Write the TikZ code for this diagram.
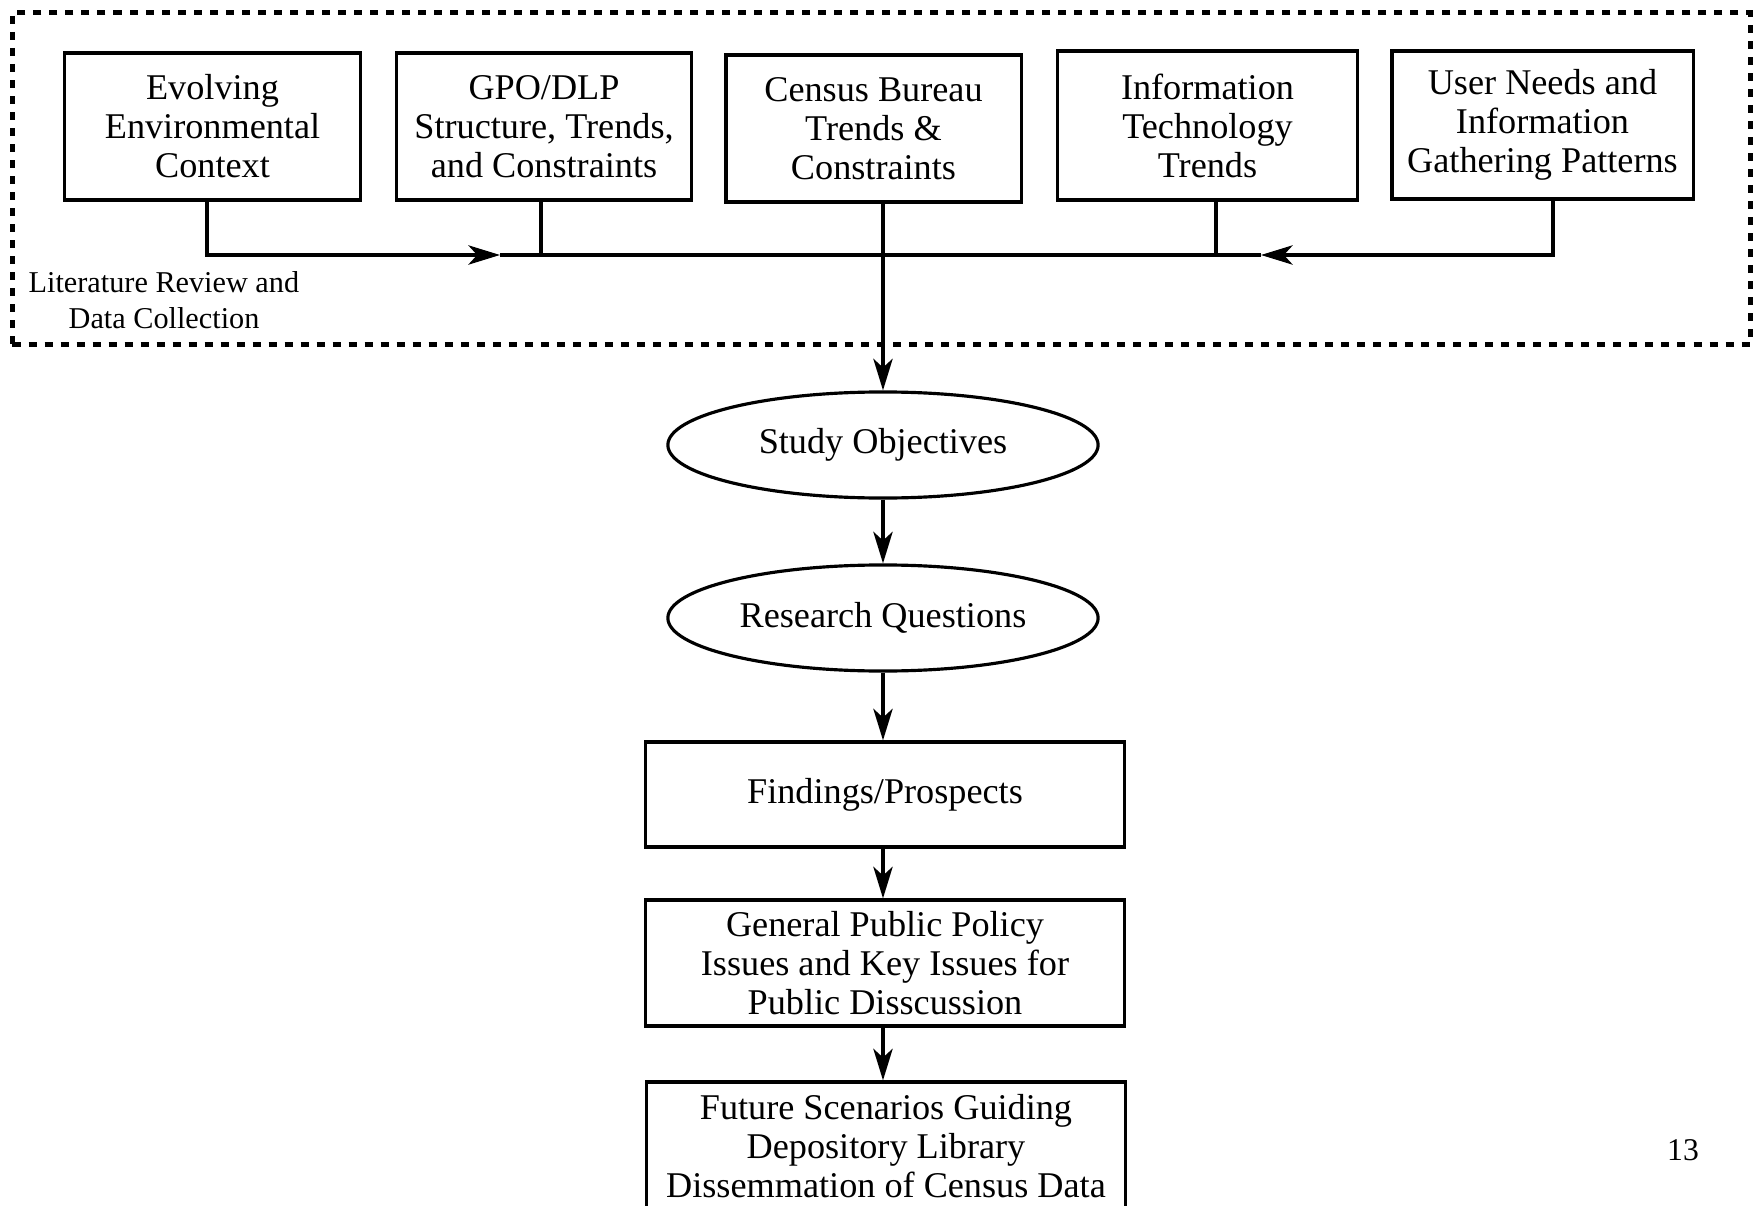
\documentclass[tikz,border=0pt]{standalone}
\usepackage{fontspec}
\setmainfont{Liberation Serif}
\usetikzlibrary{shapes.geometric,arrows.meta}
\begin{document}
\begin{tikzpicture}[x=0.01cm,y=-0.01cm,
  box/.style={draw,line width=0.9pt,rectangle,align=center,inner sep=0pt,
    font=\fontsize{10.3}{11.1}\selectfont},
  oval/.style={draw,line width=0.9pt,ellipse,inner sep=0pt,minimum width=4.3cm,minimum height=1.06cm,
    font=\fontsize{10.3}{11.1}\selectfont},
  frame/.style={draw,line width=1.4pt,dash pattern=on 0.08cm off 0.08cm,inner sep=0pt},
  conn/.style={line width=0.9pt},
  arr/.style={line width=0.9pt,-{Stealth[length=9pt,width=5.5pt,inset=2.5pt]}},
  lbl/.style={font=\fontsize{8.6}{10.2}\selectfont,align=left,inner sep=0pt,anchor=west}
]
\clip (0,0) rectangle (1753,1206);
\useasboundingbox (0,0) rectangle (1753,1206);

\node[frame,minimum width=17.37cm,minimum height=3.31cm] (frame) at (881.5,178.5) {};

\node[box,minimum width=2.95cm,minimum height=1.47cm] (b1) at (212.5,126.5) {Evolving\\Environmental\\Context};
\node[box,minimum width=2.94cm,minimum height=1.47cm] (b2) at (544,126.5) {GPO/DLP\\Structure, Trends,\\and Constraints};
\node[box,minimum width=2.95cm,minimum height=1.47cm] (b3) at (873.5,128.5) {Census Bureau\\Trends \&\\Constraints};
\node[box,minimum width=2.99cm,minimum height=1.49cm] (b4) at (1207.5,125.5) {Information\\Technology\\Trends};
\node[box,minimum width=3.01cm,minimum height=1.48cm] (b5) at (1542.5,125) {User Needs and\\Information\\Gathering Patterns};

\node[lbl] (lit) at (28,300) {Literature Review and\\\hspace*{0.4cm}Data Collection};

\node[oval] (e1) at (883,445) {Study Objectives};
\node[oval] (e2) at (883,618) {Research Questions};
\node[box,minimum width=4.78cm,minimum height=1.05cm] (f1) at (885,794.5) {Findings/Prospects};
\node[box,minimum width=4.78cm,minimum height=1.26cm] (f2) at (885,963) {General Public Policy\\Issues and Key Issues for\\Public Disscussion};
\node[box,minimum width=4.78cm,minimum height=1.28cm] (f3) at (886,1146) {Future Scenarios Guiding\\Depository Library\\Dissemmation of Census Data};

\node[font=\fontsize{9}{10}\selectfont,inner sep=0pt] (pg) at (1683,1150) {13};

\coordinate (j1) at (207,255);
\coordinate (j2) at (541,255);
\coordinate (j3) at (883,255);
\coordinate (j4) at (1216,255);
\coordinate (j5) at (1553,255);
\coordinate (a1) at (500,255);
\coordinate (a5) at (1261,255);

\draw[arr] (b1.south -| j1) -- (j1) -- (a1);
\draw[conn] (a1) -- (j3);
\draw[arr] (b5.south -| j5) -- (j5) -- (a5);
\draw[conn] (a5) -- (j3);
\draw[conn] (b2.south -| j2) -- (j2);
\draw[conn] (b4.south -| j4) -- (j4);
\draw[arr] (b3.south -| e1.north) -- (e1.north);
\draw[arr] (e1.south) -- (e2.north);
\draw[arr] (e2.south) -- (f1.north -| e2.south);
\draw[arr] (f1.south -| e2.south) -- (f2.north -| e2.south);
\draw[arr] (f2.south -| e2.south) -- (f3.north -| e2.south);
\end{tikzpicture}
\end{document}
